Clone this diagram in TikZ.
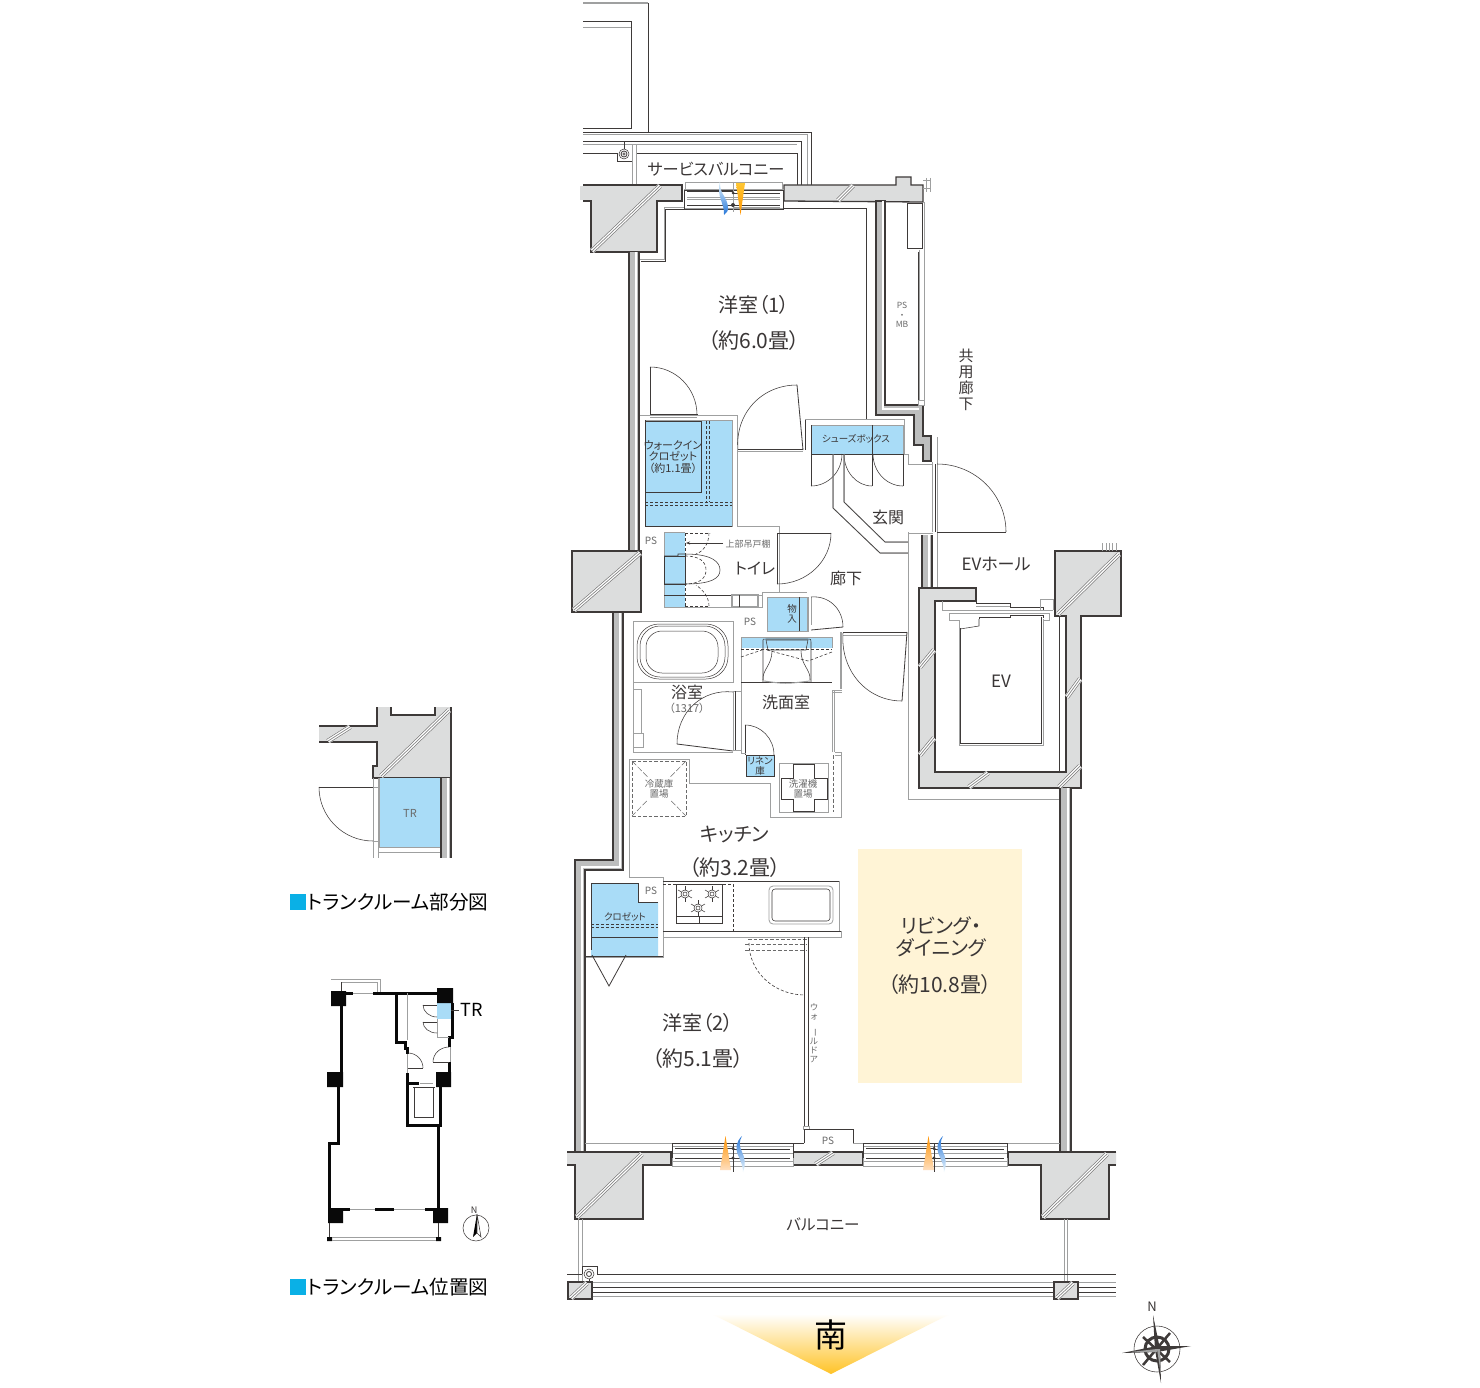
\documentclass[tikz,border=0pt]{standalone}
\usepackage{fontspec}
\setmainfont[RawFeature=+palt]{Noto Sans CJK JP}
\usetikzlibrary{calc,arrows.meta}
\definecolor{dk}{HTML}{3E3A39}
\definecolor{gr}{HTML}{9FA0A0}
\definecolor{hg}{HTML}{858585}
\definecolor{wallc}{HTML}{DCDDDD}
\definecolor{stripc}{HTML}{BDBEBE}
\definecolor{bl}{HTML}{A9DCF7}
\definecolor{txt}{HTML}{3A3636}
\definecolor{txg}{HTML}{6A6A6A}
\definecolor{ldc}{HTML}{FFF4D6}
\definecolor{keyb}{HTML}{0AB0E6}
\tikzset{
 dl/.style={draw=dk,line width=.8pt},
 tl/.style={draw=dk,line width=.55pt},
 gl/.style={draw=gr,line width=1pt},
 ggl/.style={draw=gr,line width=1.8pt},
 wl/.style={fill=wallc,draw=dk,line width=1.3pt,line join=miter},
 dsh/.style={draw=dk,line width=.6pt,dash pattern=on 3pt off 2pt},
 gdsh/.style={draw=txg,line width=.8pt,dash pattern=on 3.5pt off 2pt},
 bluef/.style={fill=bl,draw=gr,line width=.6pt},
 lb/.style={inner sep=0pt,text=txt,align=center},
}
\newcommand\lbl[5][txt]{\pgfmathsetmacro\lsk{#4*1.08}\node[lb,text=#1,font=\fontsize{#4}{\lsk}\selectfont] (#2) at (#3) {#5};}
\newcommand\doorarc[4][tl]{\draw[#1] (#2) .. controls ($(#2)+0.5523*(#3)-0.5523*(#4)$) and ($(#3)+0.5523*(#2)-0.5523*(#4)$) .. (#3);}
\newcommand\hatch[2]{\draw[white,line width=5.4pt] (#1)--(#2);\foreach \d in {-2.2,0,2.2}{\draw[draw=hg,line width=.7pt,shift={(\d*.7,\d*.7)}] (#1)--(#2);}}
\newcommand\vwall[4]{\fill[stripc] (#1,#3) rectangle (#2,#4);\fill[white] ({#1+.62*(#2-#1)},#3) rectangle ({#1+.82*(#2-#1)},#4);\draw[dk,line width=1.3pt] (#1,#3)--(#1,#4) (#2,#3)--(#2,#4);}
\newcommand\chouon{\rotatebox{-90}{ー}}
\begin{document}
\begin{tikzpicture}[x=1pt,y=-1pt]
\useasboundingbox (0,0) rectangle (1480,1388);
\fill[white] (0,0) rectangle (1480,1388);
% ---- north service balcony
\draw[ggl,line width=1.2pt] (583,3)--(648,3);
\draw[tl] (648,3)--(648,132);
\draw[tl] (583,21)--(631,21)--(631,128)--(583,128);
\draw[gl] (583,28)--(631,28);
\draw[tl] (583,132)--(811,132)--(811,185);
\draw[gl] (583,135)--(807,135)--(807,185);
\draw[tl] (583,141)--(801,141)--(801,185);
\draw[gl] (583,145)--(797,145);
\draw[tl] (636,153)--(797,153)--(797,185);
\draw[tl] (583,153)--(617,153)--(617,161)--(632,161);
\draw[gl] (632.5,145)--(632.5,184) (636,145)--(636,184);
\draw[tl] (624,142)--(624,149);
\draw[tl] (624,154) circle[radius=5];
\draw[dl] (624,154) circle[radius=3];
\draw[tl] (624,154) circle[radius=1.2];
% ---- room 1 outline
\draw[gl] (640,260)--(664,260)--(664,208)--(686,208);
\draw[tl] (641,261)--(665,261)--(665,209)--(686,209);
\draw[tl] (782,208)--(866,208)--(866,419)--(805,419)--(805,450);
\draw[gl] (805,419)--(866,419);
% ---- WIC
\draw[gl] (639,415)--(737,415)--(737,526)--(779,526)--(779,533);
\path[bluef] (645,420) rectangle (732,526);
\draw[tl] (645,421)--(701,421)--(701,492)--(645,492);
\draw[dsh] (706,421)--(706,502) (709,421)--(709,502);
\draw[dsh] (645,502)--(732,502) (645,505)--(732,505);
\draw[tl] (645,420)--(645,526)--(732,526);
\draw[dl] (650,367)--(650,415);
\doorarc{650,367}{697,415}{650,415}
\draw[dl] (650,414)--(698,414);
\draw[gl] (650,417)--(697,417);
\lbl{twic}{673,457}{11}{ウォークイン\\クロゼット\\（約1.1畳）}
% ---- bedroom door
\draw[dl] (797,385)--(803,450);
\doorarc{738,450}{797,385}{803,450}
\draw[tl] (738,449)--(803,449);
\draw[gl] (738,451.5)--(803,451.5);
\draw[gl] (737,445)--(737,455);
% ---- shoe box
\draw[gl] (805,419)--(853,419);
\draw[gl] (853,419)--(904,419)--(904,454);
\path[bluef] (811,425) rectangle (903,454);
\draw[tl] (811,425)--(811,454)--(903,454) (872,425)--(872,454);
\draw[dl] (811,454)--(811,486) (872,454)--(872,486) (903,454)--(903,486);
\doorarc{811,486}{842,454}{811,454}
\doorarc{872,486}{844,454}{872,454}
\doorarc{903,486}{873,454}{903,454}
\lbl{tshoe}{856,439}{9.5}{シューズボックス}
\draw[gl] (833,454)--(833,508)--(880,553)--(908,553);
\draw[tl] (833,454)--(833,508)--(880,553)--(908,553);
\draw[gl] (844,454)--(844,502)--(885,542)--(908,542);
\draw[tl] (844,454)--(844,502)--(885,542)--(908,542);
\draw[gl] (904,454)--(908,454)--(908,464)--(932,464);
\draw[gl] (908,533)--(933,533) (908,532)--(908,799)--(1060,799);
% ---- entrance door
\draw[gl] (932,462)--(932,532) (937,437)--(937,533);
\draw[tl] (935,464)--(935,532);
\draw[tl] (937,532)--(1006,532);
\doorarc{937,464}{1006,532}{937,532}
% ---- toilet
\path[fill=bl] (664,532) rectangle (685,607);
\draw[gl] (664,532)--(685,532) (664,532)--(664,607)--(758,607);
\draw[gl] (758,595)--(762,595)--(762,592)--(807,592);
\draw[gl] (762,595)--(762,607)--(758,607);
\draw[tl] (664,595)--(732,595);
\draw[ggl,line width=1.2pt] (732,595) rectangle (758,607);
\draw[tl] (739,595)--(739,607);
\draw[tl] (664,556) rectangle (685,584);
\path[fill=bl] (664.5,556.5) rectangle (684.5,583.5);
\draw[tl] (664,556)--(678,556)--(678,554)--(685,554)
 .. controls (712,554) and (720,562) .. (720,570) .. controls (720,578) and (712,584) .. (685,584)--(678,584)--(664,584);
\draw[dsh] (685,533)--(685,607);
\draw[dsh] (685,533)--(710,533) (685,606)--(709,606);
\draw[dsh] (709,533) .. controls (709,545) and (702,552) .. (696,554);
\draw[dsh] (685,556) .. controls (700,556) and (706,562) .. (706,570) .. controls (706,578) and (700,584) .. (685,584);
\draw[dsh] (709,606) .. controls (709,597) and (703,590) .. (696,585);
\draw[tl,-{Stealth[length=4pt,width=3pt]}] (723,543)--(686,543);
\lbl[txg]{tjoubu}{748,544}{9}{上部吊戸棚}
\lbl[txg]{tps1}{651,541}{10}{PS}
\draw[dl] (777,533)--(777,584);
\draw[gl] (779,533)--(779,592);
\draw[dl] (777,533)--(831,533);
\doorarc{831,533}{777,584}{777,533}
\lbl{ttoi}{755,568}{16}{トイレ}
% ---- store
\path[bluef] (767,597) rectangle (807,631);
\draw[tl] (799,597)--(799,631);
\lbl{tmono}{792,614}{9.5}{物\\入}
\draw[gl] (808,597)--(808,632) (811,597)--(811,625);
\draw[dl] (811,630)--(843,627);
\doorarc{811,597}{843,627}{811,630}
\lbl[txg]{tps2}{750,622}{10}{PS}
% ---- LDK door
\draw[tl] (843,632)--(907,632);
\draw[gl] (843,635)--(907,635);
\draw[dl] (907,632)--(902,701);
\doorarc{843,633}{902,701}{907,633}
% ---- bath
\draw[gl] (633,621)--(733,621)--(733,682)--(633,682);
\draw[gl] (633,621)--(633,752)--(733,752);
\foreach \a/\b/\c/\d/\r in {637/624/728/679/22,640/626/725/677/20,646/631/718/673/16}{\draw[draw=dk,line width=.5pt,rounded corners=\r pt] (\a,\b) rectangle (\c,\d);}
\draw[gl,line width=.8pt] (633,689) rectangle (641,733);
\draw[gl,line width=.8pt] (633,733)--(643,733)--(643,747)--(633,747);
\lbl{tbath}{687,692}{16}{浴室}
\lbl[txg]{tbath2}{687,708}{11}{（1317）}
\draw[dl] (677,744)--(733,751);
\doorarc{677,744}{733,692}{733,750}
\draw[gl,fill=white] (733,691) rectangle (741,750);
\draw[tl] (735,691)--(735,750);
% ---- washroom
\path[fill=bl] (741,637) rectangle (832,648);
\draw[gl] (741,637)--(832,637)--(832,648);
\draw[gl,line width=.8pt] (741,637)--(741,753);
\draw[tl] (741,682)--(832,682);
\draw[dsh] (741,649)--(832,649);
\draw[dsh] (741,657)--(765,649);
\draw[dsh] (767,650)--(808,661)--(832,652);
\draw[tl] (763,682)--(763,640) .. controls (763,639) .. (766,639)--(808,639) .. controls (811,639) .. (811,642)--(811,682);
\draw[tl] (766,640)--(808,640)--(806,650)--(768,650)--cycle;
\draw[tl] (772,651) .. controls (772,665) and (762,670) .. (763,680);
\draw[tl] (801,651) .. controls (801,665) and (811,670) .. (810,680);
\draw[gl] (764,681) .. controls (785,684) .. (810,681);
\draw[ggl] (841,632)--(841,689);
\draw[gl] (832,690)--(842,690) (832,692.5)--(842,692.5);
\draw[gl] (832,690)--(832,752) (834.5,690)--(834.5,752);
\draw[gl] (835,752)--(842,752) (835,755)--(842,755);
\draw[gl] (841,752)--(841,817)--(770,817)--(770,783)--(689,783)--(689,759)--(629,759)--(629,877)--(663,877)--(663,957)--(586,957);
\draw[gdsh,line width=.6pt] (833,755)--(833,812);
\lbl{twash}{786,702}{16}{洗面室}
% ---- linen
\path[fill=bl,draw=dk,line width=.9pt] (746,755) rectangle (774,776);
\draw[dl] (745,725)--(745,755);
\doorarc{745,725}{774,755}{745,755}
\lbl[txt]{tlinen}{760,766}{9.5}{リネン\\庫}
\draw[gl] (741,753)--(746,753);
% ---- washer
\draw[gl,line width=.8pt] (779,763) rectangle (828,812);
\draw[tl] (793,764)--(814,764)--(814,778)--(827,778)--(827,799)--(814,799)--(814,811)--(793,811)--(793,799)--(781,799)--(781,778)--(793,778)--cycle;
\lbl[txg]{twasher}{803,789}{9.5}{洗濯機\\置場}
% ---- fridge
\draw[gdsh] (632,761) rectangle (686,816);
\draw[draw=txg,line width=.5pt,dash pattern=on 6pt off 2pt] (632,761)--(686,816) (686,761)--(632,816);
\path[fill=white] (645,778) rectangle (674,800);
\lbl[txg]{tfridge}{659,789}{9.5}{冷蔵庫\\置場}
% ---- kitchen
\lbl{tkit}{735,835}{19.5}{キッチン}
\lbl{tkit2}{735,868}{21}{（約3.2畳）}
\draw[gl] (663,881)--(839,881)--(839,931);
\draw[tl] (663,881)--(839,881);
\draw[gl] (663,931)--(841,931)--(841,937)--(663,937);
\draw[tl] (663,931)--(841,931);
\draw[dsh] (663,884)--(733,884)--(733,931);
\draw[draw=dk,line width=1pt] (676,884) rectangle (722,923);
\draw[tl] (676,916)--(722,916) (699,916)--(699,923);
\foreach \x/\y in {685/894,712/894,698/908}{
 \draw[tl] (\x,\y) circle[radius=4];
 \draw[tl] (\x,\y) circle[radius=2];
 \foreach \a in {0,60,120,180,240,300}{\draw[tl] (\x,\y)+(\a+30:4)--+(\a+30:8);}
}
\draw[gl,line width=.8pt,rounded corners=4pt] (769,886) rectangle (833,924);
\draw[tl,rounded corners=3pt] (772,889) rectangle (830,921);
% ---- closet
\path[fill=bl] (591,883)--(638,883)--(638,902)--(658,902)--(658,956)--(591,956)--cycle;
\draw[tl] (591,883)--(638,883)--(638,902)--(658,902);
\draw[tl] (591,883)--(591,950) (591,937)--(658,937) (586,956)--(663,956);
\draw[dsh] (591,924)--(658,924) (591,927)--(658,927);
\lbl{tclo}{625,917}{9.5}{クロゼット}
\lbl[txg]{tps3}{651,891}{10}{PS}
\draw[dl] (592,955)--(609,986)--(626,955);
% ---- walk door
\draw[gdsh,line width=.7pt] (748,939)--(807,939) (745,944)--(807,944) (745,950)--(807,950);
\doorarc[dsh]{749,943}{805,995}{805,943}
\draw[gl] (804,937)--(804,1128);
\draw[tl] (804,937)--(804,1128) (808,937)--(808,1128);
\draw[gl,fill=white] (803,1126) rectangle (809,1129);
\lbl[txg]{twall}{814,1033}{8.5}{ウ\\ォ\\\chouon\\ル\\ド\\ア}
% ---- LD
\fill[ldc] (858,849) rectangle (1022,1083);
\lbl{tld}{941,937}{20}{リビング・\\ダイニング}
\lbl{tld2}{940,985}{21}{（約10.8畳）}
\lbl{tr2}{698,1023}{20}{洋室（2）}
\lbl{tr2b}{698,1059}{21}{（約5.1畳）}
% ---- room 1 text
\lbl{tr1}{754,305}{20}{洋室（1）}
\lbl{tr1b}{754,341}{21}{（約6.0畳）}
\lbl{tsvc}{716,169}{16.2}{サービスバルコニー}
\lbl{tkou}{966,380}{15}{共\\用\\廊\\下}
\lbl[txg]{tpsmb}{902,315}{8.5}{PS\\・\\MB}
\lbl{tgen}{888,517}{16}{玄関}
\lbl{trou}{846,578}{16}{廊下}
\lbl{tevh}{996,564}{17}{EVホール}
\lbl{tev}{1001,681}{17}{EV}
% ---- top wall
\path[wl] (583,185)--(682,185)--(682,201)--(657,201)--(657,252)--(591,252)--(591,201)--(583,201);
\fill[wallc] (580,186) rectangle (584,200);
\hatch{592,251}{660,186}
\path[wl] (784,201)--(784,185)--(896,185)--(896,177)--(911,177)--(911,185)--(923,185)--(923,202)--cycle;
\fill[white] (896.8,170) rectangle (910.2,176);
\hatch{838,200.5}{853,185.5}
\draw[gl,line width=.7pt] (923,180)--(931,180) (926,178)--(926,192) (930,178)--(930,192) (923,188)--(931,188);
% top window
\draw[gl,fill=white] (685,183) rectangle (782,191);
\draw[gl,fill=white] (684,190) rectangle (783,209);
\draw[tl] (684,190)--(684,209)--(783,209)--(783,190)--cycle;
\draw[dl] (687,191)--(733,191) (733,193)--(780,193) (687,205)--(780,205);
\draw[gl,line width=.7pt] (687,197)--(780,197) (687,199)--(780,199) (733,207)--(780,207);
\draw[gl] (733,182)--(733,212);
\fill[dk] (733,193) circle[radius=1.5] (733,205) circle[radius=2];
\shade[top color=bl!30!white,bottom color=blue!55!cyan!70!gray] (720,181) .. controls (719,194) and (727,196) .. (728,207) .. controls (728,211) .. (724,215) .. controls (725,204) and (716,197) .. (720,181);
\shade[top color=orange!55!yellow!80!white,bottom color=orange!85!yellow] (736,183)--(745,183)--(740.5,215)--cycle;
% PS MB wall
\draw[gl,line width=.8pt] (907,203) rectangle (922,248);
\draw[tl] (907,203) rectangle (922,248);
\draw[gl] (919,250)--(919,400) (924,202)--(924,400);
\draw[tl] (918,252)--(918,400);
\path[wl,fill=stripc] (876,201)--(885,201)--(885,405)--(923,405)--(923,436)--(931,436)--(931,461)--(923,461)--(923,445)--(914,445)--(914,415)--(876,415)--cycle;
\draw[white,line width=1.2pt] (883,201)--(883,409)--(919,409);
\draw[gl,fill=white] (918,400) rectangle (924,405);
% west walls
\vwall{629}{639}{252}{551}
\path[fill=stripc,draw=dk,line width=1.3pt] (613,612)--(623,612)--(623,870)--(585,870)--(585,1152)--(575,1152)--(575,860)--(613,860)--cycle;
\draw[white,line width=1.4pt] (620,612)--(620,867)--(582,867)--(582,1152);
\path[wl] (572,551) rectangle (641,612);
\hatch{574,610}{640,553}
\vwall{922}{932}{535}{588}
\draw[gl] (937,533)--(937,588);
% EV shaft
\path[wl] (919,588)--(976,588)--(976,601)--(935,601)--(935,772)--(1066,772)--(1066,616)--(1055,616)--(1055,551)--(1121,551)--(1121,616)--(1081,616)--(1081,788)--(919,788)--cycle;
\hatch{920,667}{934,650}
\hatch{920,755}{934,738}
\hatch{969,787}{988,773}
\hatch{1059,787}{1080,766}
\hatch{1067,697}{1080,679}
\hatch{1058,614}{1119,554}
\draw[tl] (1059,616)--(1059,772);
\draw[gl,line width=.7pt] (1102,543)--(1102,551) (1106,543)--(1106,551) (1109,543)--(1109,551) (1112,543)--(1112,551) (1116,543)--(1116,551);
\draw[gl] (942,601)--(942,610)--(1053,610);
\draw[tl] (976,601)--(976,603)--(1010,603)--(1010,607)--(1043,607)--(1043,610);
\draw[gl,line width=.7pt] (976,606)--(1010,606);
\draw[gl,line width=.8pt] (1040,610)--(1040,599)--(1053,599)--(1053,610);
\draw[gl] (949,613)--(1049,613)--(1049,620)--(1043,620);
\draw[gl] (949,613)--(949,620)--(959,620);
\draw[tl] (979,619)--(979,617)--(1010,617)--(1010,615)--(1043,615)--(1043,618);
\draw[tl] (979,619)--(979,626)--(960,629);
\draw[gl] (959,620)--(959,745)--(1043,745)--(1043,619);
\draw[tl] (960.5,628)--(960.5,743)--(1041,743)--(1041,617);
% ---- east wall, south
\vwall{1060}{1071}{788}{1152}
% ---- south wall
\draw[gl,line width=.8pt] (585,1143)--(672,1143) (853,1143)--(863,1143) (1007,1143)--(1060,1143);
\draw[gl] (804,1143)--(804,1129)--(853,1129)--(853,1143);
\draw[tl] (804,1143)--(804,1129)--(853,1129)--(853,1143);
\draw[tl] (793,1143)--(804,1143);
\lbl[txg]{tps4}{828,1141}{10}{PS}
\path[wl] (567,1152)--(671,1152)--(671,1165)--(643,1165)--(643,1219)--(575,1219)--(575,1165)--(567,1165);
\hatch{577,1217}{642,1154}
\path[wl] (793,1165)--(793,1152)--(863,1152)--(863,1165)--cycle;
\hatch{816,1164}{833,1153}
\path[wl] (1116,1152)--(1008,1152)--(1008,1165)--(1041,1165)--(1041,1219)--(1109,1219)--(1109,1165)--(1116,1165);
\hatch{1043,1217}{1107,1154}
\foreach \xa/\xb/\xm in {672/793/733,863/1007/934}{
 \draw[gl,fill=white] (\xa,1143) rectangle (\xb,1166);
 \draw[tl] (\xa,1143)--(\xb,1143);
 \draw[gl,line width=.7pt] (\xa,1146)--(\xb,1146) (\xa,1153)--(\xb,1153) (\xa,1161)--(\xb,1161);
 \draw[dl] (\xa+3,1148)--(\xm,1148) (\xm,1149)--(\xb-3,1149) (\xa+3,1158)--(\xb-3,1158);
 \draw[tl] (\xa,1143)--(\xa,1158) (\xb,1143)--(\xb,1158);
 \draw[tl] (\xm,1143)--(\xm,1172);
 \fill[dk] (\xm,1148.5) circle[radius=1.6] (\xm,1158) circle[radius=1.6];
}
\shade[top color=orange!85!yellow,bottom color=orange!25!white] (725.5,1136)--(731,1170)--(720,1170)--cycle;
\shade[top color=orange!85!yellow,bottom color=orange!25!white] (928.5,1136)--(934,1170)--(923,1170)--cycle;
\shade[bottom color=bl!20!white,top color=blue!55!cyan!70!gray] (742,1136) .. controls (736,1142) and (735,1148) .. (738,1155) .. controls (741,1162) and (743,1166) .. (743,1172) .. controls (746,1164) and (745,1158) .. (742,1152) .. controls (739,1146) and (739,1141) .. (742,1136);
\shade[bottom color=bl!20!white,top color=blue!55!cyan!70!gray] (943,1136) .. controls (937,1142) and (936,1148) .. (939,1155) .. controls (942,1162) and (944,1166) .. (944,1172) .. controls (947,1164) and (946,1158) .. (943,1152) .. controls (940,1146) and (940,1141) .. (943,1136);
% ---- balcony
\lbl{tbal}{823,1224}{15.5}{バルコニー}
\draw[gl,line width=.8pt] (578,1219)--(578,1282) (582,1219)--(582,1282) (1064,1219)--(1064,1282) (1067,1219)--(1067,1282);
\draw[tl] (567,1274)--(582,1274) (597,1274)--(1116,1274);
\draw[tl] (582,1266)--(597,1266)--(597,1274);
\draw[tl] (582,1266)--(582,1274);
\draw[gl] (592,1282)--(1116,1282) (592,1296)--(1116,1296);
\draw[tl] (592,1287)--(1116,1287) (592,1292)--(1116,1292);
\draw[tl] (589,1274) circle[radius=5];
\draw[dl] (589,1274) circle[radius=2.5];
\draw[tl] (589,1279)--(589,1283);
\path[wl,line width=1.2pt] (568,1282) rectangle (592,1299);
\hatch{571,1298}{587,1283}
\path[wl,line width=1.2pt] (1054,1282) rectangle (1078,1299);
\hatch{1057,1298}{1073,1283}
% ---- south arrow
\shade[top color=white,middle color=yellow!35!white,bottom color=orange!55!yellow!85!white] (712,1314)--(950,1314)--(831,1374)--cycle;
\lbl[black]{tsouth}{831,1335}{33}{南}
% ---- compass
\draw[tl] (1157,1349) circle[radius=23];
\draw[dk,line width=3pt] (1157,1349) circle[radius=12];
\draw[dk,line width=2.5pt] (1143,1337)--(1170,1362) (1170,1333)--(1143,1365);
\fill[dk] (1153,1315)--(1160,1349)--(1161,1383)--(1155,1350)--cycle;
\fill[dk] (1122,1353)--(1157,1346)--(1191,1346)--(1157,1352)--cycle;
\fill[gr] (1157,1349)--(1160,1349)--(1161,1375)--cycle;
\fill[gr] (1157,1349)--(1157,1352)--(1130,1352)--cycle;
\lbl{tn}{1152,1307}{13}{N}
% ---- key plan 1
\path[fill=wallc] (319,726)--(377,726)--(377,707)--(391,707)--(391,715)--(435,715)--(435,707)--(451,707)--(451,778)--(373,778)--(373,766)--(377,766)--(377,742)--(319,742)--cycle;
\draw[dl,line width=1.1pt] (319,726)--(377,726)--(377,707) (391,707)--(391,715)--(435,715)--(435,707) (451,707)--(451,778)--(373,778)--(373,766)--(377,766)--(377,742)--(319,742);
\hatch{328,741}{350,727}
\hatch{381,776}{449,710}
\path[fill=bl] (379,778) rectangle (441,847);
\draw[gl,line width=.8pt] (379,778)--(379,847)--(441,847);
\draw[gl,line width=.8pt] (379,852)--(441,852);
\draw[gl] (373,778)--(373,858) (378,778)--(378,858);
\vwall{441}{451}{778}{858}
\draw[gl,fill=white] (373,787) rectangle (378,841);
\draw[tl] (319,787)--(373,787);
\doorarc{319,787}{373,841}{373,787}
\lbl[txg]{ttr}{410,813}{11}{TR}
\fill[keyb] (290,894) rectangle (306,910);
\lbl[black]{tk1}{398,902}{19.6}{トランクルーム部分図}
% ---- key plan 2
\draw[gl] (331,979)--(380,979)--(380,993) (341,982)--(377,982)--(377,993);
\draw[tl] (341,982)--(341,991);
\fill[bl] (437,1003) rectangle (451,1019);
\fill[black!85!dk] (331,991) rectangle (346,1006) (437,988) rectangle (453,1003) (327,1072) rectangle (343,1087) (436,1072) rectangle (451,1087) (328,1208) rectangle (343,1223) (433,1208) rectangle (448,1223) (327,1237) rectangle (332,1241) (436,1237) rectangle (441,1241);
\begin{scope}[draw=black!85!dk,line width=3pt]
\draw (341,1006)--(341,1072) (338,1087)--(338,1143)--(329,1143)--(329,1208);
\draw (438,1125)--(438,1208) (346,993)--(353,993) (373,993)--(437,993);
\draw (396,993)--(396,1042)--(405,1042)--(405,1048)--(407,1048)--(407,1054);
\draw (407,1073)--(407,1125)--(440,1125)--(440,1083) (407,1083)--(419,1083);
\draw (452,1003)--(452,1037)--(449,1037)--(449,1047) (449,1062)--(449,1072);
\draw (343,1209)--(350,1209) (375,1209)--(394,1209) (425,1209)--(433,1209);
\end{scope}
\draw[gl,line width=.8pt] (353,993)--(373,993) (350,1209)--(375,1209) (394,1209)--(425,1209) (407,993)--(407,1040) (407,1054)--(407,1073) (450,1047)--(450,1062) (420,1083)--(433,1083);
\draw[tl] (329,1223)--(329,1237) (438,1223)--(438,1237);
\draw[gl,line width=.8pt] (332,1237)--(436,1237) (332,1240)--(436,1240);
\draw[tl] (414,1087)--(414,1117)--(433,1117)--(433,1087) (413,1087)--(435,1087);
\draw[gl,line width=.7pt] (437,1019)--(437,1037)--(449,1037);
\draw[tl] (423,1005)--(437,1005) (423,1022)--(437,1022);
\doorarc{423,1005}{437,1017}{437,1005}
\doorarc{423,1022}{437,1033}{437,1022}
\draw[tl] (408,1068)--(423,1068);
\doorarc{408,1053}{423,1068}{408,1068}
\draw[tl] (433,1062)--(449,1062);
\doorarc{433,1062}{449,1047}{449,1062}
\draw[tl] (451,1010)--(459,1010);
\lbl[black]{ttr2}{472,1010}{18}{TR}
\draw[tl] (476,1228) circle[radius=13];
\fill[black] (477,1214)--(473,1237)--(477,1233)--cycle;
\draw[tl,fill=white] (477,1214)--(481,1237)--(477,1233)--cycle;
\lbl{tn2}{474,1210}{9}{N}
\fill[keyb] (290,1279) rectangle (306,1295);
\lbl[black]{tk2}{398,1287}{19.6}{トランクルーム位置図}
\end{tikzpicture}
\end{document}
